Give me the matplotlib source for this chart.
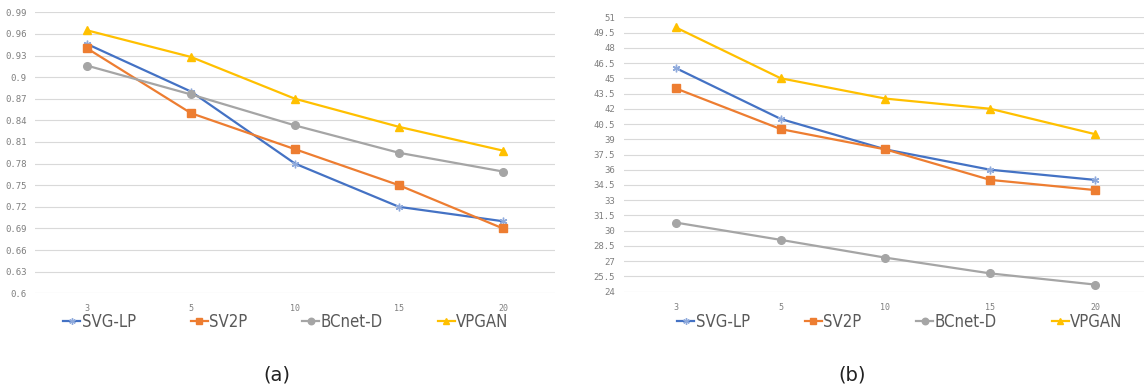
import matplotlib
matplotlib.use("Agg")
import matplotlib.pyplot as plt

categories = ["3", "5", "10", "15", "20"]
series_names = ["SVG-LP", "SV2P", "BCnet-D", "VPGAN"]

a_svglp = [0.946, 0.880, 0.780, 0.720, 0.700]
a_sv2p = [0.940, 0.850, 0.800, 0.750, 0.690]
a_bcnet = [0.916, 0.876, 0.833, 0.795, 0.769]
a_vpgan = [0.965, 0.928, 0.870, 0.831, 0.798]

b_svglp = [46.0, 41.0, 38.0, 36.0, 35.0]
b_sv2p = [44.0, 40.0, 38.0, 35.0, 34.0]
b_bcnet = [30.8, 29.1, 27.35, 25.8, 24.7]
b_vpgan = [50.0, 45.0, 43.0, 42.0, 39.5]

a_yticks = [0.6, 0.63, 0.66, 0.69, 0.72, 0.75, 0.78, 0.81, 0.84, 0.87, 0.9, 0.93, 0.96, 0.99]
a_ylabels = ["0.6", "0.63", "0.66", "0.69", "0.72", "0.75", "0.78", "0.81", "0.84", "0.87", "0.9", "0.93", "0.96", "0.99"]
b_yticks = [24, 25.5, 27, 28.5, 30, 31.5, 33, 34.5, 36, 37.5, 39, 40.5, 42, 43.5, 45, 46.5, 48, 49.5, 51]
b_ylabels = ["24", "25.5", "27", "28.5", "30", "31.5", "33", "34.5", "36", "37.5", "39", "40.5", "42", "43.5", "45", "46.5", "48", "49.5", "51"]

colors = ["#4472C4", "#ED7D31", "#A5A5A5", "#FFC000"]
marker_colors = ["#8FAADC", "#ED7D31", "#A5A5A5", "#FFC000"]
markers = [(6, 2, 0), "s", "o", "^"]

fig = plt.figure(figsize=(11.44, 3.86), dpi=100)

def draw(ax, data, yticks, ylabels, ylim, legend_anchor):
    x = list(range(len(categories)))
    handles = []
    for vals, c, mc, m, name in zip(data, colors, marker_colors, markers, series_names):
        h, = ax.plot(x, vals, color=c, lw=1.6, marker=m, markersize=5.5,
                     markerfacecolor=mc, markeredgecolor=mc, markeredgewidth=1.0, label=name)
        handles.append(h)
    ax.set_xlim(-0.5, len(categories) - 0.5)
    ax.set_ylim(*ylim)
    ax.set_xticks(x)
    ax.set_xticklabels(categories, family="DejaVu Sans Mono", fontsize=6, color="#7F7F7F")
    ax.set_yticks(yticks)
    ax.set_yticklabels(ylabels, family="DejaVu Sans Mono", fontsize=6.5, color="#7F7F7F")
    ax.tick_params(length=0, pad=6)
    ax.tick_params(axis="x", pad=8)
    ax.grid(axis="y", color="#D9D9D9", lw=0.8)
    ax.set_axisbelow(True)
    for s in ax.spines.values():
        s.set_visible(False)
    fig.legend(handles=handles, loc="center", bbox_to_anchor=legend_anchor, ncol=4,
               frameon=False, handlelength=1.0, handletextpad=0.1, columnspacing=3.3,
               prop={"family": "DejaVu Sans", "stretch": "condensed", "size": 12},
               labelcolor="#595959", markerscale=0.85)

ax1 = fig.add_axes([35 / 1144, 92.7 / 386, 520 / 1144, 281 / 386])
draw(ax1, [a_svglp, a_sv2p, a_bcnet, a_vpgan], a_yticks, a_ylabels, (0.6, 0.99), (286 / 1144, 64 / 386))

ax2 = fig.add_axes([623.5 / 1144, 94.3 / 386, 524 / 1144, 274.4 / 386])
draw(ax2, [b_svglp, b_sv2p, b_bcnet, b_vpgan], b_yticks, b_ylabels, (24, 51), (900 / 1144, 64 / 386))

fig.text(277 / 1144, 11 / 386, "(a)", ha="center", va="center", fontsize=14, color="#222222")
fig.text(852 / 1144, 11 / 386, "(b)", ha="center", va="center", fontsize=14, color="#222222")

fig.savefig("out.png", dpi=100)
